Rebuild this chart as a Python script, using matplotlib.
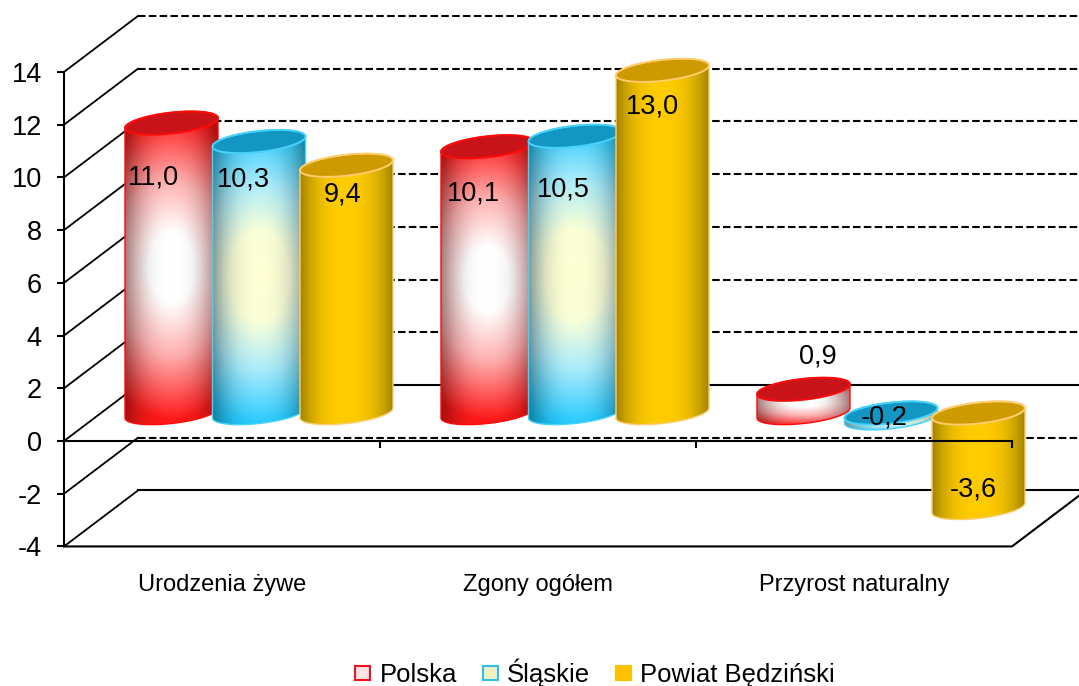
import matplotlib
matplotlib.use("Agg")
import matplotlib.pyplot as plt
import numpy as np
from matplotlib.patches import Patch, Polygon

plt.rcParams["font.family"] = ["Liberation Sans", "DejaVu Sans"]

# Datos
categorias = ["Urodzenia żywe", "Zgony ogółem", "Przyrost naturalny"]
series = ["Polska", "Śląskie", "Powiat Będziński"]
polska = [11.0, 10.1, 0.9]
slaskie = [10.3, 10.5, -0.2]
bedzinski = [9.4, 13.0, -3.6]
etiquetas = [["11,0", "10,1", "0,9"], ["10,3", "10,5", "-0,2"], ["9,4", "13,0", "-3,6"]]
yticks = [-4, -2, 0, 2, 4, 6, 8, 10, 12, 14]

# escala: pixeles por unidad
W, H = 1079, 686
px_x = 316.0
px_y = 26.36
x_pix = lambda px: (px - 222) / px_x
val_y0 = 441 / px_y

fig = plt.figure(figsize=(W / 100, H / 100), dpi=100)
ax = fig.add_axes([0, 0, 1, 1])
ax.patch.set_alpha(0)
lims = (x_pix(0), x_pix(W), (441 - H) / px_y, val_y0)

# profundidad de la caja 3D
dx = 74 / px_x
dy = 56 / px_y
x0, x1 = -0.5, 2.5

# pared del fondo
for v in yticks:
    ls = "-" if v in (0, -4) else (0, (3.6, 1.6))
    ax.plot([x0 + dx, x1 + dx], [v + dy, v + dy], color="black", lw=1.5, ls=ls, zorder=0.5)
    ax.plot([x0, x0 + dx], [v, v + dy], color="black", lw=1.3, zorder=0.6)
ax.plot([x0, x1, x1 + dx], [-4, -4, -4 + dy], color="black", lw=1.5, zorder=0.6)

# colores: degradado, tapa, borde
stops = {
    0: ([0, 0.22, 0.55, 0.95, 1.5], [(255, 255, 255), (255, 255, 255), (255, 175, 175), (255, 25, 25), (255, 25, 25)]),
    1: ([0, 0.3, 0.62, 1.0, 1.5], [(255, 255, 210), (250, 255, 215), (170, 235, 250), (30, 200, 255), (30, 200, 255)]),
    2: ([0, 1.5], [(255, 204, 0), (255, 204, 0)]),
}
tapa = ["#c81418", "#1496c3", "#cd9b00"]
borde = ["#ff0a0a", "#46d2fa", "#ffcd6e"]

ancho = 87.5 / px_x
a = 46.5 / px_x
b = 10.5 / px_y
inc = 5 / px_y
t = np.linspace(0, 2 * np.pi, 121)


def elipse(cx, cy, tt):
    return np.column_stack([cx + a * np.cos(tt), cy + b * np.sin(tt) + inc * np.cos(tt)])


def degradado(ns):
    u, w = np.meshgrid(np.linspace(-1, 1, 80), np.linspace(-1, 1, 160))
    r = np.sqrt((0.45 * u) ** 2 + w**2)
    xs, cs = stops[ns]
    cs = np.array(cs) / 255
    img = np.dstack([np.interp(r, xs, cs[:, k]) for k in range(3)])
    return img * (1 - 0.36 * np.abs(u) ** 2.5)[..., None]


def cilindro(ns, i, valor, z):
    cx = i + (ns - 1) * ancho + dx / 2
    base = dy / 2
    arriba = base + max(valor, 0)
    abajo = base + min(valor, 0)
    sup = elipse(cx, arriba, t)
    inf = elipse(cx, abajo, np.linspace(np.pi, 2 * np.pi, 61))
    arco = elipse(cx, arriba, np.linspace(0, np.pi, 61))
    sil = Polygon(np.vstack([inf, arco]), closed=True, fc="none", ec=borde[ns], lw=1.0, zorder=z + 0.002)
    ax.add_patch(sil)
    im = ax.imshow(degradado(ns), extent=(cx - a, cx + a, abajo - b - inc, arriba + b + inc),
                   origin="lower", aspect="auto", zorder=z, interpolation="bilinear")
    im.set_clip_path(sil)
    ax.add_patch(Polygon(sup, closed=True, fc=tapa[ns], ec=borde[ns], lw=1.4, zorder=z + 0.001))
    return cx, arriba


# desplazamiento de cada etiqueta respecto al centro de la tapa (pixeles)
desp = [[(-18, -54), (-14, -47), (14, 33)],
        [(-16, -38), (-12, -53), (-7, -5)],
        [(-4, -29), (-10, -36), (-5, -76)]]

for ns, vals in enumerate([polska, slaskie, bedzinski]):
    for i, v in enumerate(vals):
        cx, top = cilindro(ns, i, v, 1.0 + 0.01 * (ns * 3 + i))
        ax.annotate(etiquetas[ns][i], (cx, top), xytext=desp[ns][i], textcoords="offset pixels",
                    ha="center", va="center", fontsize=19.5, color="black", zorder=5)

ax.set_xlim(lims[0], lims[1])
ax.set_ylim(lims[2], lims[3])

# ejes
for s in ["top", "right"]:
    ax.spines[s].set_visible(False)
ax.spines["left"].set_position(("data", x0))
ax.spines["left"].set_bounds(-4, 14)
ax.spines["bottom"].set_position(("data", 0))
ax.spines["bottom"].set_bounds(x0, x1)
ax.spines["left"].set_linewidth(1.5)
ax.spines["bottom"].set_linewidth(1.5)
ax.set_yticks(yticks)
ax.set_yticklabels([str(v) for v in yticks], fontsize=19.5)
ax.tick_params(axis="y", length=5, width=1.5, pad=11)
ax.set_xticks([0.5, 1.5, 2.5])
ax.set_xticklabels([])
ax.tick_params(axis="x", which="major", length=5, width=1.5, direction="out")
ax.set_xticks([0, 1, 2], minor=True)
ax.set_xticklabels(categorias, minor=True, fontsize=17)
ax.tick_params(axis="x", which="minor", length=0, pad=96)

# leyenda
handles = [Patch(fc="#fde4e4", ec="#f01020", lw=1.5),
           Patch(fc="#f5f0c0", ec="#30c0f0", lw=1.5),
           Patch(fc="#ffc000", ec="#ffc000", lw=1.5)]
fig.legend(handles, series, loc="center", bbox_to_anchor=(595 / W, 1 - 673 / H), ncol=3, frameon=False,
           fontsize=18.5, handlelength=0.6, handleheight=0.5, handletextpad=0.35, columnspacing=1.0)

plt.savefig("out.png", dpi=100)
